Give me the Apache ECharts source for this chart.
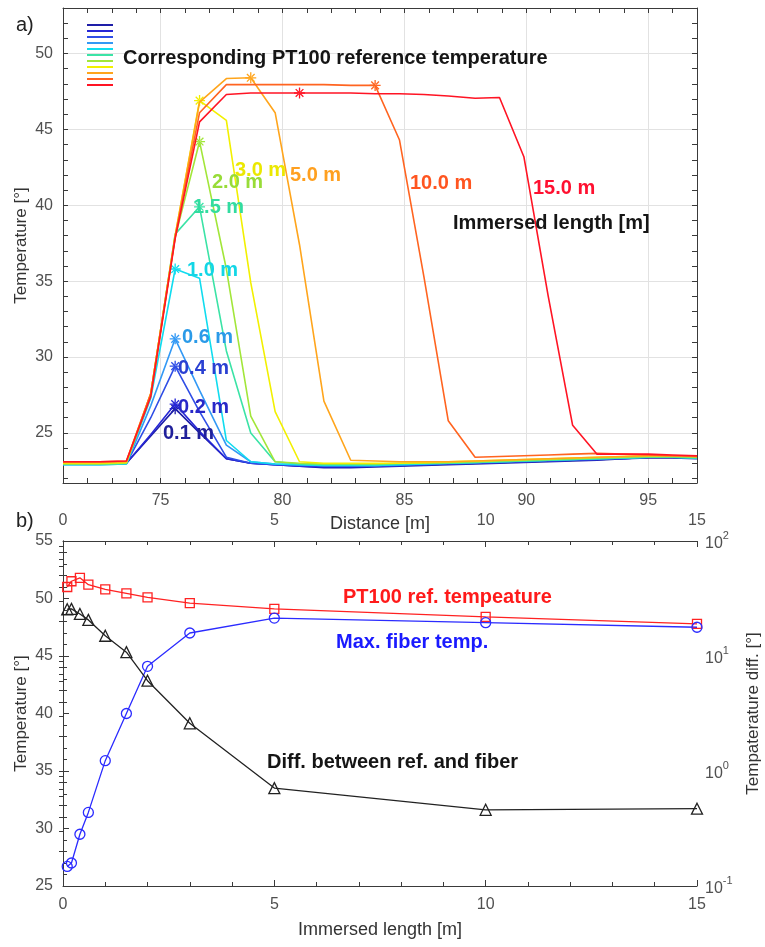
<!DOCTYPE html>
<html><head><meta charset="utf-8">
<script src="https://cdn.jsdelivr.net/npm/echarts@6/dist/echarts.min.js"></script>
<style>html,body{margin:0;padding:0;background:#fff}#c{width:765px;height:947px}</style>
</head><body><div id="c"></div>
<script>
// ---------- data: panel a) ----------
const distance = [71, 72.5, 73.6, 74.6, 75.6, 76.6, 77.7, 78.7, 79.7, 80.7, 81.7, 82.8, 83.8, 84.8, 85.8, 86.8, 87.9, 88.9, 89.9, 90.9, 91.9, 92.9, 94.0, 95.0, 96.0, 97.0];
const lengthNames = ['0.1 m', '0.2 m', '0.4 m', '0.6 m', '1.0 m', '1.5 m', '2.0 m', '3.0 m', '5.0 m', '10.0 m', '15.0 m'];
const temp01 = [22.95, 22.95, 23.0, 24.8, 26.6, 25.0, 23.3, 23.0, 22.9, 22.8, 22.7, 22.7, 22.75, 22.8, 22.85, 22.9, 22.95, 23.0, 23.05, 23.1, 23.15, 23.2, 23.3, 23.35, 23.35, 23.3];
const temp02 = [22.95, 22.95, 23.0, 24.9, 26.9, 25.1, 23.3, 23.0, 22.9, 22.8, 22.75, 22.75, 22.8, 22.85, 22.9, 22.95, 23.0, 23.05, 23.1, 23.15, 23.2, 23.25, 23.3, 23.4, 23.4, 23.35];
const temp04 = [22.95, 22.95, 23.0, 26.0, 29.4, 26.4, 23.4, 23.0, 22.9, 22.85, 22.8, 22.8, 22.8, 22.85, 22.9, 22.95, 23.0, 23.05, 23.1, 23.15, 23.2, 23.25, 23.3, 23.4, 23.4, 23.35];
const temp06 = [22.9, 22.9, 22.95, 26.8, 31.2, 27.8, 24.2, 23.1, 22.95, 22.9, 22.85, 22.85, 22.85, 22.9, 22.95, 23.0, 23.05, 23.1, 23.15, 23.2, 23.25, 23.3, 23.35, 23.4, 23.4, 23.35];
const temp10 = [22.9, 22.9, 22.95, 27.3, 35.8, 35.2, 24.5, 23.1, 22.95, 22.9, 22.85, 22.85, 22.85, 22.9, 22.95, 23.0, 23.05, 23.1, 23.15, 23.2, 23.25, 23.3, 23.35, 23.4, 23.4, 23.35];
const temp15 = [22.95, 22.95, 23.0, 27.5, 38.1, 39.9, 30.4, 25.0, 23.1, 22.95, 22.9, 22.9, 22.9, 22.95, 23.0, 23.0, 23.05, 23.1, 23.15, 23.2, 23.25, 23.3, 23.35, 23.4, 23.4, 23.35];
const temp20 = [22.95, 22.95, 23.0, 27.5, 37.9, 44.2, 35.8, 26.1, 23.1, 23.0, 22.95, 22.95, 22.95, 23.0, 23.0, 23.05, 23.1, 23.15, 23.2, 23.25, 23.3, 23.35, 23.4, 23.45, 23.45, 23.4];
const temp30 = [23.0, 23.0, 23.05, 27.6, 38.0, 46.9, 45.6, 34.9, 26.4, 23.1, 23.0, 23.0, 23.0, 23.0, 23.05, 23.1, 23.15, 23.2, 23.25, 23.3, 23.35, 23.4, 23.45, 23.5, 23.5, 23.45];
const temp50 = [23.05, 23.05, 23.1, 27.6, 38.0, 46.8, 48.35, 48.4, 46.1, 37.4, 27.1, 23.2, 23.15, 23.1, 23.1, 23.1, 23.15, 23.2, 23.25, 23.3, 23.35, 23.4, 23.45, 23.5, 23.5, 23.45];
const temp100 = [23.1, 23.1, 23.15, 27.6, 37.9, 46.1, 47.95, 47.95, 47.95, 47.95, 47.95, 47.9, 47.9, 44.3, 35.3, 25.8, 23.4, 23.45, 23.5, 23.55, 23.6, 23.65, 23.6, 23.55, 23.5, 23.45];
const temp150 = [23.1, 23.1, 23.15, 27.4, 37.8, 45.5, 47.3, 47.4, 47.4, 47.4, 47.4, 47.4, 47.35, 47.35, 47.3, 47.2, 47.05, 47.1, 43.2, 34.0, 25.5, 23.6, 23.6, 23.6, 23.55, 23.5];
// index of the sample that carries the PT100 reference marker (*)
const refMarkerIndex = [4, 4, 4, 4, 4, 5, 5, 5, 7, 12, 9];
const distanceTickLabels = [75, 80, 85, 90, 95];
const tempTickLabelsA = [25, 30, 35, 40, 45, 50];

// ---------- data: panel b) ----------
const immersedLength = [0.1, 0.2, 0.4, 0.6, 1.0, 1.5, 2.0, 3.0, 5.0, 10.0, 15.0];
const pt100RefTemp = [51.0, 51.5, 51.8, 51.2, 50.8, 50.45, 50.1, 49.6, 49.1, 48.4, 47.8];
const maxFiberTemp = [26.7, 27.0, 29.5, 31.4, 35.9, 40.0, 44.1, 47.0, 48.3, 47.9, 47.5];
const tempDiff = [25.5, 25.7, 23.2, 20.6, 15.0, 10.8, 6.1, 2.6, 0.71, 0.46, 0.47];
const lengthTickLabels = [0, 5, 10, 15];
const tempTickLabelsB = [25, 30, 35, 40, 45, 50, 55];
const diffTickLabels = [0.1, 1, 10, 100];
const diffMinorTicks = [0.2, 0.3, 0.4, 0.5, 0.6, 0.7, 0.8, 0.9, 1, 2, 3, 4, 5, 6, 7, 8, 9, 10, 20, 30, 40, 50, 60, 70, 80, 90];

// ---------- styles ----------
const curves = [temp01, temp02, temp04, temp06, temp10, temp15, temp20, temp30, temp50, temp100, temp150];
const curveColors = ['#1e1ea8', '#2626d6', '#2f4ee6', '#3399f5', '#10dcef', '#3be3a6', '#a2e63a', '#f2f000', '#ffa51c', '#ff6420', '#ff1424'];
const labelColors = ['#20209a', '#2828c8', '#2a40d2', '#2a9ae8', '#12d6e6', '#32dca0', '#98dc38', '#ebe800', '#ffa020', '#ff5520', '#ff1030'];
const labelPos = [[163, 433], [178, 407], [178, 368], [182, 337], [187, 270], [193, 207], [212, 182], [235, 170], [290, 175], [410, 183], [533, 188]];
const FONT = '"Liberation Sans", Arial, sans-serif';
const AX = '#3a3a3a';
const TXT = '#505050';
const STAR = 'path://M-0.6,-5L0.6,-5L0.6,5L-0.6,5Z M-5,-0.6L5,-0.6L5,0.6L-5,0.6Z M-3.08,-3.92L3.92,3.08L3.08,3.92L-3.92,-3.08Z M-3.08,3.92L3.92,-3.08L3.08,-3.92L-3.92,3.08Z';

const chart = echarts.init(document.getElementById('c'), null, {renderer: 'canvas'});

const tickOnly = (extra) => Object.assign({
  axisLabel: {show: false}, splitLine: {show: false}, axisLine: {show: false},
  axisTick: {show: true, inside: true, length: 5, lineStyle: {color: AX}}
}, extra);

const nameStyle = (size) => ({color: '#333', fontSize: size, fontFamily: FONT});

const xAxes = [
  { gridIndex: 0, type: 'value', position: 'bottom', min: 71, max: 97, splitNumber: 5,
    axisLine: {show: true, lineStyle: {color: AX}}, axisTick: {show: false},
    splitLine: {show: true, lineStyle: {color: '#e2e2e2'}},
    axisLabel: {customValues: distanceTickLabels, color: TXT, fontSize: 16, fontFamily: FONT, margin: 10},
    name: 'Distance [m]', nameLocation: 'middle', nameGap: 32, nameMoveOverlap: false,
    nameTextStyle: nameStyle(18) },
  tickOnly({ gridIndex: 0, type: 'value', position: 'bottom', min: 71, max: 97, interval: 1 }),
  tickOnly({ gridIndex: 0, type: 'value', position: 'top', min: 71, max: 97, interval: 1, axisLine: {show: true, lineStyle: {color: AX}} }),
  { gridIndex: 1, type: 'value', position: 'bottom', min: 0, max: 15, interval: 5,
    axisLine: {show: true, lineStyle: {color: AX}},
    axisTick: {show: true, inside: true, length: 6, lineStyle: {color: AX}},
    minorTick: {show: true, splitNumber: 5, length: 4, lineStyle: {color: AX}},
    splitLine: {show: false},
    axisLabel: {customValues: lengthTickLabels, color: TXT, fontSize: 16, fontFamily: FONT, margin: 11},
    name: 'Immersed length [m]', nameLocation: 'middle', nameGap: 35, nameMoveOverlap: false,
    nameTextStyle: nameStyle(18) },
  { gridIndex: 1, type: 'value', position: 'top', min: 0, max: 15, interval: 5,
    axisLine: {show: true, lineStyle: {color: AX}},
    axisTick: {show: true, inside: true, length: 6, lineStyle: {color: AX}},
    minorTick: {show: true, splitNumber: 5, length: 4, lineStyle: {color: AX}},
    splitLine: {show: false},
    axisLabel: {customValues: lengthTickLabels, color: TXT, fontSize: 16, fontFamily: FONT, margin: 12} }
];

const yAxes = [
  { gridIndex: 0, type: 'value', position: 'left', min: 21.7, max: 53, splitNumber: 6,
    axisLine: {show: true, lineStyle: {color: AX}}, axisTick: {show: false},
    splitLine: {show: true, lineStyle: {color: '#e2e2e2'}},
    axisLabel: {customValues: tempTickLabelsA, color: TXT, fontSize: 16, fontFamily: FONT, margin: 10},
    name: 'Temperature [°]', nameLocation: 'middle', nameGap: 33, nameRotate: 90, nameMoveOverlap: false,
    nameTextStyle: nameStyle(17) },
  tickOnly({ gridIndex: 0, type: 'value', position: 'left', min: 21.7, max: 53, splitNumber: 31 }),
  tickOnly({ gridIndex: 0, type: 'value', position: 'right', min: 21.7, max: 53, splitNumber: 31, axisLine: {show: true, lineStyle: {color: AX}} }),
  { gridIndex: 1, type: 'value', position: 'left', min: 25, max: 55, interval: 5,
    axisLine: {show: true, lineStyle: {color: AX}},
    axisTick: {show: true, inside: true, length: 6, lineStyle: {color: AX}},
    minorTick: {show: true, splitNumber: 5, length: 4, lineStyle: {color: AX}},
    splitLine: {show: false},
    axisLabel: {customValues: tempTickLabelsB, color: TXT, fontSize: 16, fontFamily: FONT, margin: 10},
    name: 'Temperature [°]', nameLocation: 'middle', nameGap: 33, nameRotate: 90, nameMoveOverlap: false,
    nameTextStyle: nameStyle(17) },
  { gridIndex: 1, type: 'log', logBase: 10, position: 'right', min: 0.1, max: 100,
    axisLine: {show: true, lineStyle: {color: AX}},
    axisTick: {show: true, inside: true, length: 4, customValues: diffMinorTicks, lineStyle: {color: AX}},
    splitLine: {show: false},
    axisLabel: {customValues: diffTickLabels, margin: 8,
      formatter: v => '{b|10}{s|' + Math.round(Math.log10(v)) + '}',
      rich: {
        b: {fontSize: 16, color: TXT, fontFamily: FONT, verticalAlign: 'bottom', lineHeight: 22},
        s: {fontSize: 11, color: TXT, fontFamily: FONT, verticalAlign: 'top', lineHeight: 22}
      }},
    name: 'Tempaterature diff. [°]', nameLocation: 'middle', nameGap: 48, nameRotate: 90, nameMoveOverlap: false,
    nameTextStyle: nameStyle(17) }
];

const curveSeries = curves.map((vals, i) => ({
  type: 'line', name: lengthNames[i], xAxisIndex: 0, yAxisIndex: 0,
  symbol: 'none', showSymbol: true, animation: false, z: 3 + i,
  lineStyle: {color: curveColors[i], width: 1.6},
  itemStyle: {color: curveColors[i]},
  emphasis: {disabled: true},
  data: vals.map((v, j) => j === refMarkerIndex[i]
    ? {value: [distance[j], v], symbol: STAR, symbolSize: 11}
    : [distance[j], v])
}));

const openMarker = (c) => ({color: 'rgba(255,255,255,0)', borderColor: c, borderWidth: 1.3});
const bSeries = [
  { type: 'line', name: 'PT100 ref.', xAxisIndex: 3, yAxisIndex: 3, animation: false,
    symbol: 'rect', symbolSize: 9, lineStyle: {color: '#ff2222', width: 1.3}, itemStyle: openMarker('#ff2222'),
    data: immersedLength.map((x, i) => [x, pt100RefTemp[i]]) },
  { type: 'line', name: 'Max. fiber', xAxisIndex: 3, yAxisIndex: 3, animation: false,
    symbol: 'circle', symbolSize: 10, lineStyle: {color: '#2b2bff', width: 1.3}, itemStyle: openMarker('#2b2bff'),
    data: immersedLength.map((x, i) => [x, maxFiberTemp[i]]) },
  { type: 'line', name: 'Diff.', xAxisIndex: 3, yAxisIndex: 4, animation: false,
    symbol: 'triangle', symbolSize: 11, lineStyle: {color: '#222', width: 1.3}, itemStyle: openMarker('#222'),
    data: immersedLength.map((x, i) => [x, tempDiff[i]]) }
];

const txt = (text, x, y, color, font, extra) => Object.assign({
  type: 'text', x: x, y: y, z: 100,
  style: {text: text, fill: color, font: font, align: 'left', verticalAlign: 'middle'}
}, extra || {});
const BOLD = 'bold 20px ' + FONT;
const graphics = [
  txt('a)', 16, 25, '#222', '20px ' + FONT),
  txt('b)', 16, 521, '#222', '20px ' + FONT),
  txt('Corresponding PT100 reference temperature', 123, 58, '#151515', BOLD),
  txt('Immersed length [m]', 453, 223, '#151515', BOLD),
  txt('PT100 ref. tempeature', 343, 597, '#ff1a1a', BOLD),
  txt('Max. fiber temp.', 336, 642, '#1a1aff', BOLD),
  txt('Diff. between ref. and fiber', 267, 762, '#151515', BOLD)
].concat(lengthNames.map((n, i) => txt(n, labelPos[i][0], labelPos[i][1], labelColors[i], BOLD)));

chart.setOption({
  backgroundColor: '#ffffff',
  animation: false,
  textStyle: {fontFamily: FONT},
  grid: [
    {left: 63, right: 68, top: 8, height: 475, containLabel: false, outerBoundsMode: 'none'},
    {left: 63, right: 68, top: 541, height: 345, containLabel: false, outerBoundsMode: 'none'}
  ],
  legend: {
    data: lengthNames, orient: 'vertical', left: 87, top: 24, padding: 0,
    icon: 'rect', itemWidth: 26, itemHeight: 2, itemGap: 4,
    formatter: () => '', textStyle: {fontSize: 1, lineHeight: 2, padding: 0},
    selectedMode: false
  },
  xAxis: xAxes,
  yAxis: yAxes,
  series: curveSeries.concat(bSeries),
  graphic: graphics
});
</script></body></html>
